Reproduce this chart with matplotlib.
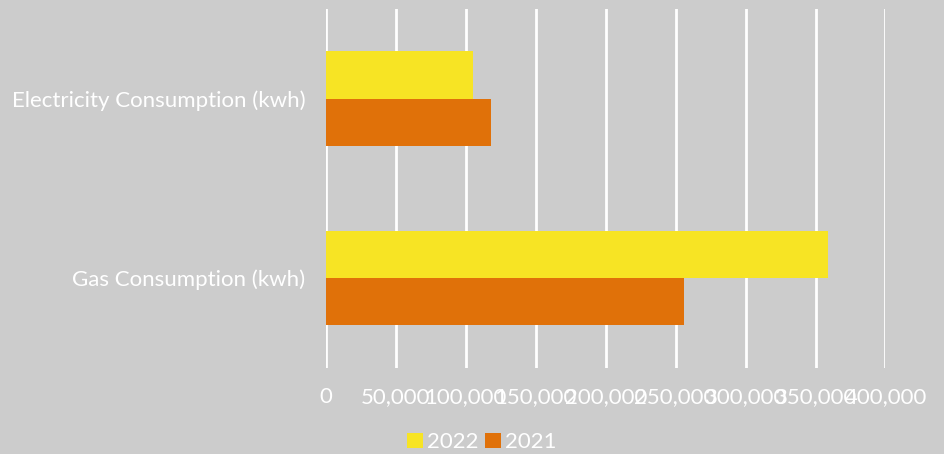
import matplotlib
matplotlib.use("Agg")
import matplotlib.pyplot as plt
import numpy as np

categories = ["Electricity Consumption (kwh)", "Gas Consumption (kwh)"]
years = ["2022", "2021"]
values_2022 = [105000, 359000]
values_2021 = [118000, 256000]
xticks = [0, 50000, 100000, 150000, 200000, 250000, 300000, 350000, 400000]

BG = "#cccccc"
YELLOW = "#f7e424"
ORANGE = "#e07109"

plt.rcParams["font.family"] = ["Lato", "DejaVu Sans"]

fig = plt.figure(figsize=(9.45, 4.54), dpi=100, facecolor=BG)
ax = fig.add_axes([0.345, 0.190, 0.592, 0.790], facecolor=BG)

y = np.arange(len(categories))
h = 0.264
ax.barh(y - h / 2, values_2022, height=h, color=YELLOW, label=years[0], zorder=3)
ax.barh(y + h / 2, values_2021, height=h, color=ORANGE, label=years[1], zorder=3)

ax.set_ylim(1.5, -0.5)
ax.set_xlim(0, 400000)
ax.set_yticks(y)
ax.set_yticklabels(categories, fontsize=16, color="white")
ax.set_xticks(xticks)
ax.set_xticklabels([f"{v:,}" for v in xticks], fontsize=16, color="white")
ax.tick_params(length=0)
ax.tick_params(axis="y", pad=15)
ax.tick_params(axis="x", pad=14)

ax.grid(axis="x", color="white", linewidth=2, zorder=0)
for s in ax.spines.values():
    s.set_visible(False)

fig.legend(loc="center", bbox_to_anchor=(0.51, 0.026), ncol=2, frameon=False,
           fontsize=16, labelcolor="white", handlelength=0.7, handleheight=0.7,
           handletextpad=0.2, columnspacing=0.3, borderaxespad=0)

fig.savefig("out.png", dpi=100, facecolor=BG)
